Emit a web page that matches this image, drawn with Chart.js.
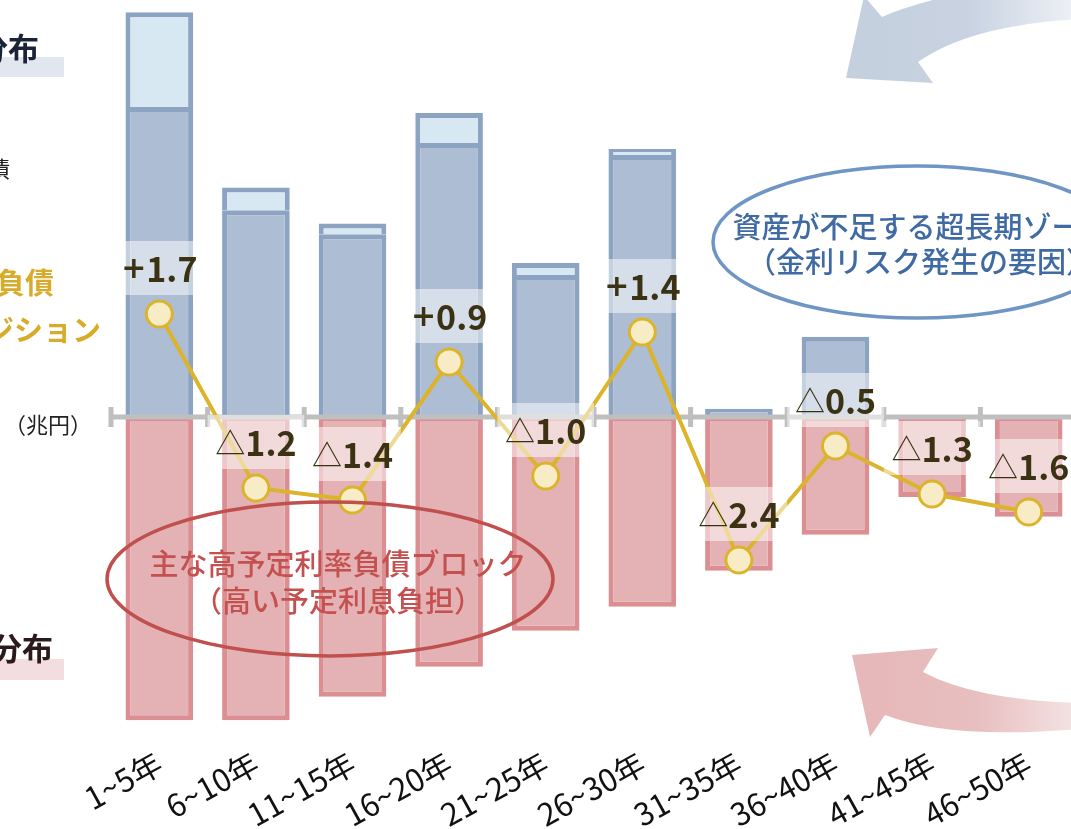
<!DOCTYPE html>
<html><head><meta charset="utf-8">
<script src="https://cdn.jsdelivr.net/npm/chart.js@4"></script>
<style>
html,body{margin:0;padding:0;overflow:hidden;background:#fff;width:1071px;height:829px}
#wrap{position:absolute;left:0;top:0;width:1077px;height:829px}
</style>
</head><body><div id="wrap"><canvas id="c" width="1077" height="829"></canvas></div>
<script>
// ---- data (兆円) ----
const categories = ['1~5年','6~10年','11~15年','16~20年','21~25年','26~30年','31~35年','36~40年','41~45年','46~50年'];
const assetMain   = [5.15, 3.43, 3.03, 4.55, 2.35, 4.35, 0.12, 1.32, null, null];
const assetTop    = [1.58, 0.38, 0.18, 0.50, 0.20, 0.10, null, null, null, null];
const liabilities = [-5.07, -5.07, -4.68, -4.18, -3.58, -3.18, -2.58, -1.98, -1.35, -1.68];
const netPosition = [1.7, -1.2, -1.4, 0.9, -1.0, 1.4, -2.4, -0.5, -1.3, -1.6];
const yMin = -5.4, yMax = 6.9;

const JP = '"Noto Sans CJK JP", "Noto Sans", sans-serif';

const axisPlugin = {
  id: 'axisLine',
  beforeDatasetDraw(chart, args) {
    if (args.index !== 0) return;
    const ctx = chart.ctx, xs = chart.scales.x, ys = chart.scales.y;
    const z = ys.getPixelForValue(0) + 1;
    const step = xs.width / categories.length;
    ctx.save();
    ctx.strokeStyle = '#bfbfbf';
    ctx.lineWidth = 5;
    ctx.beginPath();
    ctx.moveTo(xs.left, z); ctx.lineTo(xs.right + 10, z);
    for (let i = 0; i <= categories.length; i++) {
      const tx = xs.left + i * step;
      ctx.moveTo(tx, z - 10); ctx.lineTo(tx, z + 10);
    }
    ctx.stroke();
    ctx.restore();
  }
};

const labelPlugin = {
  id: 'netLabels',
  afterDatasetsDraw(chart) {
    const ctx = chart.ctx, xs = chart.scales.x, ys = chart.scales.y2;
    const step = xs.width / categories.length;
    ctx.save();
    netPosition.forEach((v, i) => {
      const px = xs.getPixelForValue(i), py = ys.getPixelForValue(v);
      ctx.fillStyle = 'rgba(255,255,255,0.5)';
      ctx.fillRect(px - step / 2, py - 46 - 27, step, 54);
      const num = Math.abs(v).toFixed(1);
      const numFont = 'bold 34px ' + JP;
      const signFont = v > 0 ? 'bold 30px "DejaVu Sans", sans-serif' : '30px ' + JP;
      const sign = v > 0 ? '+' : '△';
      ctx.textBaseline = 'middle';
      ctx.fillStyle = '#3b3213';
      const ty = py - 45;
      ctx.font = signFont;
      const w1 = ctx.measureText(sign).width;
      ctx.font = numFont;
      const w2 = ctx.measureText(num).width;
      const start = px - (w1 + w2) / 2;
      ctx.textAlign = 'left';
      ctx.font = signFont;
      ctx.fillText(sign, start, ty + (v > 0 ? 1 : 0));
      ctx.font = numFont;
      ctx.fillText(num, start + w1, ty);
    });
    ctx.restore();
  }
};

const decoPlugin = {
  id: 'deco',
  afterDraw(chart) {
    const ctx = chart.ctx;
    ctx.save();
    // blue arrow (top right)
    let g = ctx.createLinearGradient(880, 0, 1075, 0);
    g.addColorStop(0, '#c5d0df'); g.addColorStop(0.45, '#c8d2e1'); g.addColorStop(1, '#eef1f6');
    ctx.fillStyle = g;
    ctx.beginPath();
    ctx.moveTo(846, 78); ctx.lineTo(864, -4); ctx.lineTo(882, 17);
    ctx.quadraticCurveTo(930, -5, 1080, -30);
    ctx.lineTo(1080, 19);
    ctx.quadraticCurveTo(970, 25, 918, 62);
    ctx.lineTo(933, 83); ctx.closePath(); ctx.fill();
    // red arrow (bottom right)
    g = ctx.createLinearGradient(880, 0, 1075, 0);
    g.addColorStop(0, '#e6b8b9'); g.addColorStop(0.5, '#e8bfc0'); g.addColorStop(1, '#f4e2e2');
    ctx.fillStyle = g;
    ctx.beginPath();
    ctx.moveTo(852, 655); ctx.lineTo(938, 648); ctx.lineTo(923, 672);
    ctx.quadraticCurveTo(975, 700, 1080, 703);
    ctx.lineTo(1080, 729);
    ctx.quadraticCurveTo(950, 740, 885, 715);
    ctx.lineTo(870, 737); ctx.closePath(); ctx.fill();

    // ellipses
    ctx.lineWidth = 3.5;
    ctx.strokeStyle = '#c0504d';
    ctx.beginPath(); ctx.ellipse(330, 579, 223, 77, 0, 0, Math.PI * 2); ctx.stroke();
    ctx.strokeStyle = '#6f95c5';
    ctx.beginPath(); ctx.ellipse(917, 242, 204, 76, 0, 0, Math.PI * 2); ctx.stroke();

    ctx.textAlign = 'center'; ctx.textBaseline = 'middle';
    ctx.font = '500 29px ' + JP;
    ctx.fillStyle = '#c4514f';
    ctx.fillText('主な高予定利率負債ブロック', 338, 564);
    ctx.fillText('（高い予定利息負担）', 338, 601);
    ctx.fillStyle = '#3f6aa3';
    ctx.fillText('資産が不足する超長期ゾーン', 921, 227);
    ctx.fillText('（金利リスク発生の要因）', 921, 262);

    // left side fragments
    ctx.fillStyle = '#e1e6ef'; ctx.fillRect(0, 57, 64, 20);
    ctx.fillStyle = '#f3dde0'; ctx.fillRect(0, 659, 64, 21);
    ctx.textAlign = 'right';
    ctx.font = 'bold 31px ' + JP;
    ctx.fillStyle = '#1a2438';
    ctx.fillText('分布', 39, 48);
    ctx.fillStyle = '#2a1a1c';
    ctx.fillText('分布', 53, 648);
    ctx.font = '22px ' + JP;
    ctx.fillStyle = '#222';
    ctx.fillText('債', 10, 169);
    ctx.font = 'bold 29px ' + JP;
    ctx.fillStyle = '#d8ab2a';
    ctx.fillText('負債', 54, 283);
    ctx.fillText('ジション', 101, 330);
    ctx.textAlign = 'center';
    ctx.font = '22px ' + JP;
    ctx.fillStyle = '#222';
    ctx.fillText('（兆円）', 48, 425);
    ctx.restore();
  }
};

new Chart(document.getElementById('c'), {
  data: {
    labels: categories,
    datasets: [
      { type: 'line', label: 'net', data: netPosition, yAxisID: 'y2', order: 0,
        borderColor: '#dbb42c', borderWidth: 4, pointRadius: 13, pointBorderWidth: 3,
        pointBackgroundColor: '#f7ecc6', pointBorderColor: '#dbb42c', tension: 0, clip: false },
      { type: 'bar', label: 'assetMain', data: assetMain, yAxisID: 'y', order: 1, stack: 's',
        backgroundColor: '#adbdd4', borderColor: '#8ca3c1', borderWidth: 5, borderSkipped: 'start',
        barPercentage: 0.7, categoryPercentage: 1 },
      { type: 'bar', label: 'assetTop', data: assetTop, yAxisID: 'y', order: 1, stack: 's',
        backgroundColor: '#d8e8f3', borderColor: '#8ca3c1', borderWidth: 5, borderSkipped: 'start',
        barPercentage: 0.7, categoryPercentage: 1 },
      { type: 'bar', label: 'liabilities', data: liabilities, yAxisID: 'y', order: 1, stack: 's',
        backgroundColor: '#e4b2b4', borderColor: '#db8f92', borderWidth: 5, borderSkipped: false,
        barPercentage: 0.7, categoryPercentage: 1 }
    ]
  },
  options: {
    responsive: false, animation: false,
    layout: { autoPadding: false, padding: { left: 111, top: 2, right: 0, bottom: 0 } },
    plugins: { legend: { display: false }, tooltip: { enabled: false } },
    scales: {
      x: { stacked: true, offset: true, grid: { display: false }, border: { display: false },
           ticks: { color: '#111', font: { family: JP, size: 31, lineHeight: 1 }, minRotation: 29, maxRotation: 29,
                    padding: -1, autoSkip: false },
           afterFit(s) { s.height = 89; } },
      y: { stacked: true, display: false, min: yMin, max: yMax },
      y2: { stacked: false, display: false, min: yMin, max: yMax }
    }
  },
  plugins: [axisPlugin, labelPlugin, decoPlugin]
});
</script>
</body></html>
